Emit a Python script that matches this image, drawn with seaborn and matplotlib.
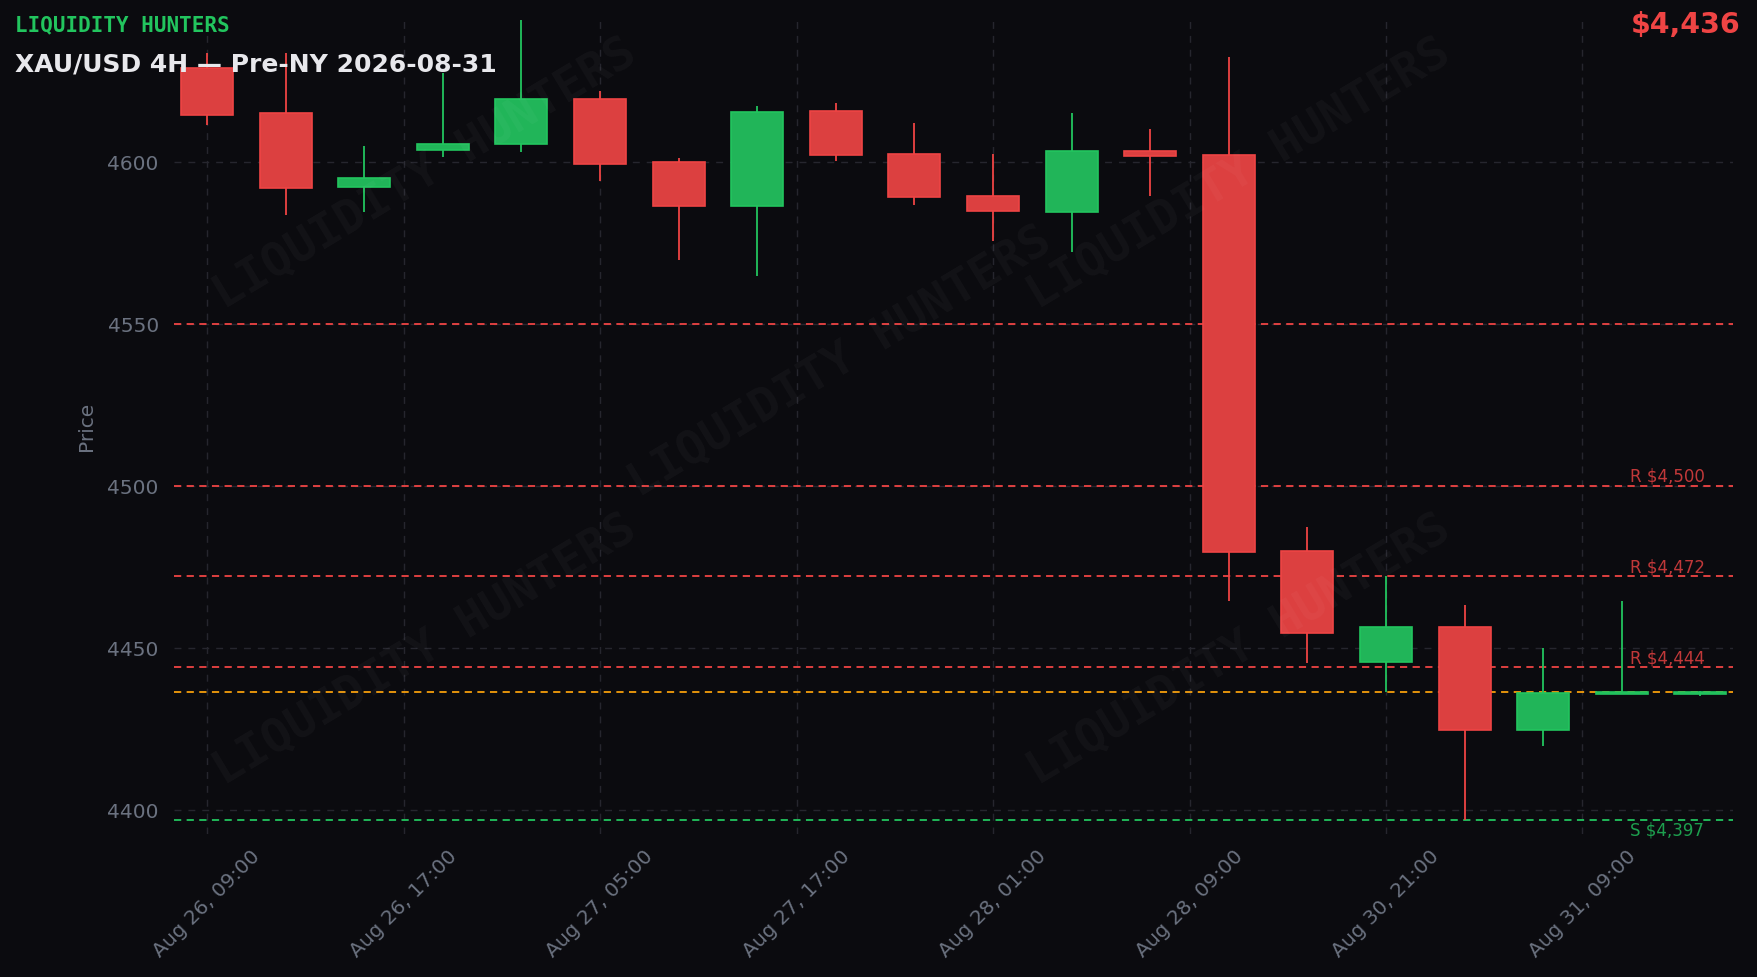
import numpy as np
import pandas as pd
import matplotlib
matplotlib.use("Agg")
import matplotlib.pyplot as plt
import seaborn as sns

# ---- data ----
opens  = [4628.7, 4614.9, 4592.0, 4603.5, 4605.5, 4619.4, 4599.7, 4586.2, 4615.6, 4602.4,
          4589.3, 4584.4, 4603.1, 4602.1, 4479.9, 4445.7, 4456.4, 4424.6, 4435.6, 4435.7]
highs  = [4633.6, 4633.6, 4604.8, 4627.3, 4643.6, 4621.8, 4601.0, 4617.0, 4618.0, 4611.8,
          4602.4, 4614.9, 4610.0, 4632.2, 4487.2, 4472.3, 4463.3, 4449.8, 4464.4, 4436.6]
lows   = [4611.4, 4583.4, 4584.4, 4601.4, 4602.8, 4594.1, 4569.5, 4564.7, 4600.3, 4586.5,
          4575.4, 4572.0, 4589.3, 4464.4, 4445.3, 4436.3, 4396.9, 4419.7, 4435.6, 4435.0]
closes = [4614.5, 4591.7, 4594.8, 4605.5, 4619.4, 4599.3, 4586.2, 4615.2, 4602.1, 4588.9,
          4584.8, 4603.1, 4601.7, 4479.6, 4454.7, 4456.4, 4424.6, 4436.0, 4436.3, 4436.3]
tick_labels = ["Aug 26, 09:00", "Aug 26, 17:00", "Aug 27, 05:00", "Aug 27, 17:00",
               "Aug 28, 01:00", "Aug 28, 09:00", "Aug 30, 21:00", "Aug 31, 09:00"]
resistance = [4550, 4500, 4472, 4444]
resistance_labels = ["", "R $4,500", "R $4,472", "R $4,444"]
support = 4397
support_label = "S $4,397"
current_price = 4436.3
price_text = "$4,436"

df = pd.DataFrame({"open": opens, "high": highs, "low": lows, "close": closes})
df["idx"] = np.arange(len(df))
df["up"] = df["close"] >= df["open"]

BG = "#0b0b0f"
RED = "#ef4444"
RED_FACE = "#dc4040"
GREEN = "#22c55e"
GREEN_FACE = "#21b559"
GRID = "#26262e"
TXT = "#6b7280"

sns.set_theme(style="darkgrid", rc={
    "axes.facecolor": BG, "figure.facecolor": BG, "grid.color": GRID,
    "grid.linestyle": (0, (5, 5)), "grid.linewidth": 1.0,
    "axes.edgecolor": BG, "xtick.color": TXT, "ytick.color": TXT,
    "axes.labelcolor": TXT,
})
plt.rcParams["font.family"] = ["DejaVu Sans"]

fig = plt.figure(figsize=(17.58, 9.78), dpi=100)
ax = fig.add_axes([0.099, 0.146, 0.887, 0.837])

colors_edge = np.where(df["up"], GREEN, RED)
colors_face = np.where(df["up"], GREEN_FACE, RED_FACE)

# wicks
ax.vlines(df["idx"], df["low"], df["high"], colors=colors_edge, linewidth=1.3, zorder=3)
# bodies
body_bottom = np.minimum(df["open"], df["close"])
body_h = np.maximum(np.abs(df["close"] - df["open"]), 0.6)
ax.bar(df["idx"], body_h, bottom=body_bottom, width=0.66, color=colors_face,
       edgecolor=colors_edge, linewidth=1.2, zorder=4)

# level lines
for lvl, lab in zip(resistance, resistance_labels):
    ax.axhline(lvl, color=RED, linestyle=(0, (4, 3)), linewidth=1.3, zorder=2)
    if lab:
        ax.text(18.1, lvl + 0.3, lab, color=RED, alpha=0.8, fontsize=12,
                ha="left", va="bottom", zorder=5)
ax.axhline(support, color=GREEN, linestyle=(0, (4, 3)), linewidth=1.3, zorder=2)
ax.text(18.1, support - 0.2, support_label, color=GREEN, alpha=0.8, fontsize=12,
        ha="left", va="top", zorder=5)
ax.axhline(current_price, color="#f59e0b", linestyle=(0, (4, 3)), linewidth=1.3, zorder=2)

ax.set_xlim(-0.42, 19.42)
ax.set_ylim(4392.5, 4645)
ax.set_yticks([4400, 4450, 4500, 4550, 4600])
ax.set_xticks(np.arange(len(tick_labels)) * 2.5)
ax.set_xticklabels(tick_labels, rotation=45, ha="center")
ax.tick_params(axis="both", labelsize=14.5, length=5, color="#4b5060", width=1, pad=6)
ax.tick_params(axis="x", pad=3.5)
ax.set_ylabel("Price", fontsize=14.5, color=TXT, labelpad=8)
ax.set_xlabel("")
for s in ax.spines.values():
    s.set_visible(False)
ax.grid(True, color=GRID, linestyle=(0, (5, 5)), linewidth=1.0)

# watermark
for (fx, fy) in [(0.242, 0.822), (0.705, 0.822), (0.478, 0.63), (0.242, 0.335), (0.705, 0.335)]:
    fig.text(fx, fy, "LIQUIDITY HUNTERS", fontsize=34, family="DejaVu Sans Mono",
             fontweight="bold", color="white", alpha=0.035, rotation=31,
             ha="center", va="center", zorder=10)

# titles
fig.text(0.0085, 0.974, "LIQUIDITY HUNTERS", family="DejaVu Sans Mono", fontweight="bold",
         fontsize=15, color=GREEN, ha="left", va="center")
fig.text(0.0085, 0.934, "XAU/USD 4H \u2014 Pre-NY 2026-08-31", fontweight="bold",
         fontsize=18, color="#e8e8ec", ha="left", va="center")
fig.text(0.990, 0.974, price_text, fontweight="bold", fontsize=20.5, color=RED,
         ha="right", va="center")

fig.savefig("out.png", dpi=100, facecolor=BG)
